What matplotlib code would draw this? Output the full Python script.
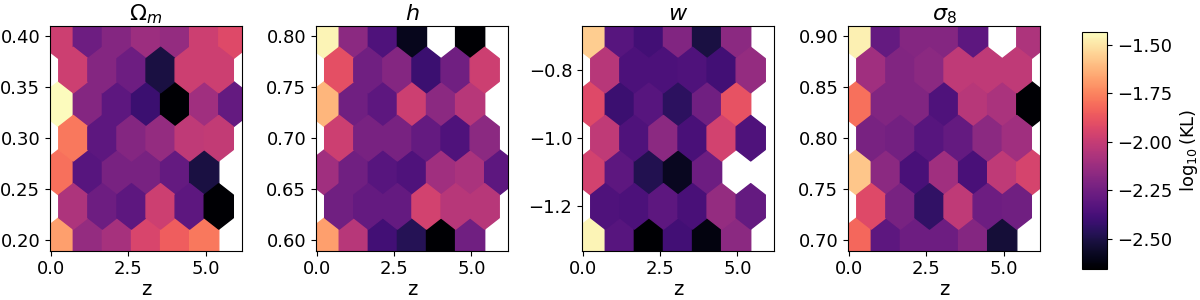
import numpy as np
import matplotlib
matplotlib.use("Agg")
import matplotlib.pyplot as plt

# ---- data ----
z_range = (0.25, 5.90)
param_names = [r"$\Omega_m$", r"$h$", r"$w$", r"$\sigma_8$"]
param_ranges = [(0.20, 0.40), (0.60, 0.80), (-1.30, -0.70), (0.70, 0.90)]
vmin, vmax = -2.655, -1.433
nan = np.nan

# log10(KL) per hexagon, rows listed top -> bottom (7,6,7,6,7,6,7 cells)
kl_omega_m = [
    [-1.98, -2.26, -2.19, -2.12, -2.14, -1.98, -1.92],
    [-1.98, -2.19, -2.26, -2.51, -1.98, -1.98],
    [-1.44, -2.19, -2.31, -2.41, -2.66, -2.11, -2.29],
    [-1.78, -2.31, -2.19, -2.14, -2.02, -2.01],
    [-1.80, -2.33, -2.23, -2.23, -2.29, -2.51, nan],
    [-2.07, -2.26, -2.31, -1.98, -2.31, -2.66],
    [-1.68, -2.14, -2.09, -1.94, -1.85, -1.78, nan],
]
kl_h = [
    [-1.46, -2.17, -2.35, -2.59, nan, -2.66, nan],
    [-1.90, -2.25, -2.19, -2.41, -2.25, -1.98],
    [-1.62, -2.25, -2.31, -1.98, -2.17, -2.04, nan],
    [-1.98, -2.23, -2.23, -2.29, -2.35, -2.17],
    [-2.11, -2.25, -2.33, -2.35, -2.11, -2.08, -2.31],
    [-2.25, -2.29, -2.29, -1.96, -2.04, -2.04],
    [-1.68, -2.04, -2.39, -2.47, -2.66, -2.25, nan],
]
kl_w = [
    [-1.56, -2.33, -2.39, -2.20, -2.51, -2.17, nan],
    [-2.04, -2.36, -2.36, -2.35, -2.39, -2.14],
    [-1.92, -2.41, -2.33, -2.45, -2.25, -1.89, nan],
    [-2.02, -2.35, -2.17, -2.37, -1.96, -2.35],
    [-1.96, -2.31, -2.48, -2.58, -2.26, nan, nan],
    [-2.35, -2.36, -2.31, -2.37, -2.14, -2.29],
    [-1.46, -2.33, -2.66, -2.39, -2.62, -2.17, nan],
]
kl_sigma_8 = [
    [-1.47, -2.29, -2.19, -2.19, -2.31, nan, -2.07],
    [-2.11, -2.20, -2.17, -2.02, -2.02, -2.02],
    [-1.80, -2.20, -2.20, -2.35, -2.04, -2.08, -2.66],
    [-2.23, -2.24, -2.33, -2.29, -2.17, -2.11],
    [-1.58, -2.17, -2.37, -2.11, -2.37, -2.02, -1.95],
    [-1.92, -2.23, -2.44, -2.02, -2.26, -2.25],
    [-1.82, -2.31, -2.26, -2.26, -2.19, -2.53, nan],
]
kl_panels = [kl_omega_m, kl_h, kl_w, kl_sigma_8]

# ---- plotting ----
plt.rcParams["font.size"] = 13
fig = plt.figure(figsize=(12, 3), dpi=100)

lefts = [0.0417, 0.2633, 0.485, 0.7067]
nx, ny = 6, 3
hb = None
for left, name, (pmin, pmax), rows in zip(lefts, param_names, param_ranges, kl_panels):
    ax = fig.add_axes([left, 0.1643, 0.16, 0.75])
    zmin, zmax = z_range
    x1 = np.linspace(zmin, zmax, nx + 1)
    x2 = 0.5 * (x1[:-1] + x1[1:])
    y1 = np.linspace(pmin, pmax, ny + 1)
    y2 = 0.5 * (y1[:-1] + y1[1:])
    xs, ys, cs = [], [], []
    for r, row in enumerate(rows):
        k = len(rows) - 1 - r  # row index from bottom
        if k % 2 == 0:
            xc, yc = x1, y1[k // 2]
        else:
            xc, yc = x2, y2[k // 2]
        for xi, val in zip(xc, row):
            if not np.isnan(val):
                xs.append(xi)
                ys.append(yc)
                cs.append(val)
    hb = ax.hexbin(xs, ys, C=cs, gridsize=(nx, ny), extent=(zmin, zmax, pmin, pmax),
                   cmap="magma", vmin=vmin, vmax=vmax, reduce_C_function=np.mean)
    ax.set_title(name, fontsize=16, pad=4)
    ax.set_xlabel("z", fontsize=14, labelpad=1)
    ax.set_xticks([0.0, 2.5, 5.0])

cax = fig.add_axes([0.9017, 0.1033, 0.0208, 0.79])
cb = fig.colorbar(hb, cax=cax)
cb.set_ticks([-1.5, -1.75, -2.0, -2.25, -2.5])
cb.set_label(r"$\log_{10}$(KL)")

fig.savefig("out.png", dpi=100)
